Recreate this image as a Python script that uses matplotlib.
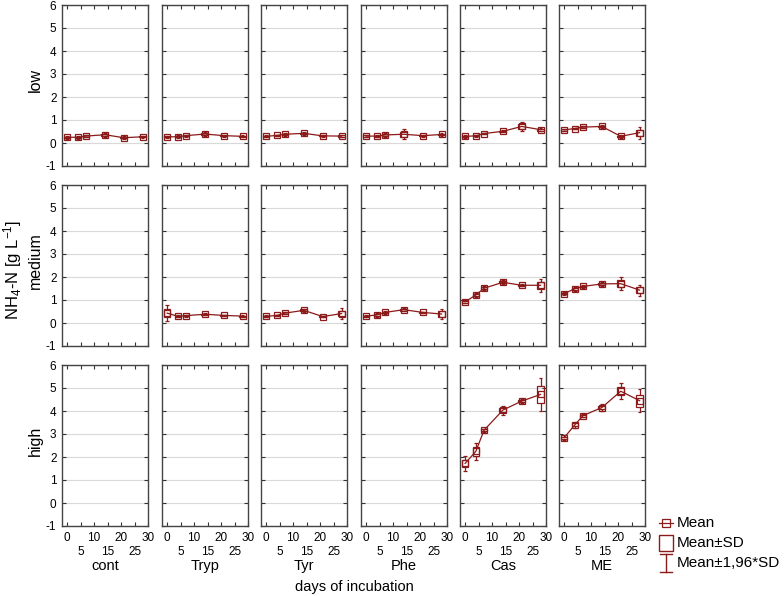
import matplotlib
matplotlib.use("Agg")
import matplotlib.pyplot as plt
from matplotlib.patches import Rectangle
from matplotlib.lines import Line2D

# sampling days
days = [0, 4, 7, 14, 21, 28]

groups = ["cont", "Tryp", "Tyr", "Phe", "Cas", "ME"]
levels = ["low", "medium", "high"]

# means (g/L) and standard deviations
cont_low = [0.25, 0.25, 0.30, 0.36, 0.23, 0.27]
cont_low_sd = [0.03, 0.03, 0.03, 0.04, 0.03, 0.02]
tryp_low = [0.27, 0.27, 0.32, 0.39, 0.32, 0.29]
tryp_low_sd = [0.02, 0.03, 0.02, 0.04, 0.02, 0.02]
tyr_low = [0.29, 0.33, 0.38, 0.42, 0.31, 0.30]
tyr_low_sd = [0.02, 0.02, 0.03, 0.03, 0.02, 0.03]
phe_low = [0.30, 0.30, 0.35, 0.38, 0.32, 0.37]
phe_low_sd = [0.03, 0.02, 0.04, 0.11, 0.02, 0.03]
cas_low = [0.29, 0.31, 0.41, 0.51, 0.72, 0.58]
cas_low_sd = [0.03, 0.02, 0.02, 0.02, 0.10, 0.04]
me_low = [0.57, 0.63, 0.69, 0.72, 0.29, 0.45]
me_low_sd = [0.03, 0.02, 0.03, 0.04, 0.03, 0.13]

tryp_med = [0.43, 0.29, 0.32, 0.38, 0.33, 0.30]
tryp_med_sd = [0.17, 0.02, 0.02, 0.02, 0.02, 0.02]
tyr_med = [0.29, 0.33, 0.43, 0.55, 0.28, 0.41]
tyr_med_sd = [0.02, 0.02, 0.03, 0.04, 0.02, 0.12]
phe_med = [0.30, 0.35, 0.46, 0.58, 0.46, 0.39]
phe_med_sd = [0.02, 0.04, 0.03, 0.04, 0.02, 0.12]
cas_med = [0.92, 1.22, 1.51, 1.77, 1.64, 1.64]
cas_med_sd = [0.03, 0.04, 0.04, 0.04, 0.02, 0.15]
me_med = [1.28, 1.49, 1.59, 1.70, 1.71, 1.43]
me_med_sd = [0.04, 0.04, 0.04, 0.04, 0.14, 0.12]

cas_high = [1.72, 2.25, 3.16, 4.04, 4.43, 4.72]
cas_high_sd = [0.17, 0.19, 0.04, 0.10, 0.04, 0.36]
me_high = [2.84, 3.40, 3.80, 4.15, 4.86, 4.45]
me_high_sd = [0.05, 0.07, 0.04, 0.08, 0.18, 0.26]

series = {
    ("cont", "low"): (cont_low, cont_low_sd),
    ("Tryp", "low"): (tryp_low, tryp_low_sd),
    ("Tyr", "low"): (tyr_low, tyr_low_sd),
    ("Phe", "low"): (phe_low, phe_low_sd),
    ("Cas", "low"): (cas_low, cas_low_sd),
    ("ME", "low"): (me_low, me_low_sd),
    ("Tryp", "medium"): (tryp_med, tryp_med_sd),
    ("Tyr", "medium"): (tyr_med, tyr_med_sd),
    ("Phe", "medium"): (phe_med, phe_med_sd),
    ("Cas", "medium"): (cas_med, cas_med_sd),
    ("ME", "medium"): (me_med, me_med_sd),
    ("Cas", "high"): (cas_high, cas_high_sd),
    ("ME", "high"): (me_high, me_high_sd),
}

red = "#8b1a1a"
W, H = 784, 596

plt.rcParams["font.family"] = ["Liberation Sans", "DejaVu Sans"]
plt.rcParams["mathtext.fontset"] = "custom"
plt.rcParams["mathtext.rm"] = "Liberation Sans"
plt.rcParams["mathtext.it"] = "Liberation Sans:italic"
fig = plt.figure(figsize=(W / 100, H / 100), dpi=100)

col_left = [62, 162, 261, 361, 460, 559]
col_w = 86
row_top = [5, 185, 365]
row_h = 161

xticklabels = ["0", "\n5", "10", "\n15", "20", "\n25", "30"]

for r, lev in enumerate(levels):
    for c, g in enumerate(groups):
        ax = fig.add_axes([col_left[c] / W, 1 - (row_top[r] + row_h) / H, col_w / W, row_h / H])
        ax.set_xlim(-1.9, 30)
        ax.set_ylim(-1, 6)
        ax.set_yticks(range(-1, 7))
        ax.set_xticks(range(0, 31, 5))
        ax.yaxis.grid(True, color="#d9d9d9", lw=0.8)
        ax.set_axisbelow(True)
        ax.tick_params(direction="in", top=True, right=True, length=3, width=0.8,
                       labelsize=8.5, color="#333333", pad=4)
        for s in ax.spines.values():
            s.set_color("#444444")
            s.set_linewidth(1.0)
        if c == 0:
            ax.set_yticklabels([str(v) for v in range(-1, 7)])
        else:
            ax.set_yticklabels([])
        if r == 2:
            ax.set_xticklabels(xticklabels, linespacing=1.25)
        else:
            ax.set_xticklabels([])

        key = (g, lev)
        if key not in series:
            continue
        mean, sd = series[key]
        ax.plot(days, mean, color=red, lw=0.9, marker="s", ms=5, mfc="none",
                mec=red, mew=0.9, zorder=4)
        bw = 2.5
        cw = 1.4
        for d, m, s in zip(days, mean, sd):
            ax.add_patch(Rectangle((d - bw / 2, m - s), bw, 2 * s, fill=False,
                                   ec=red, lw=0.9, zorder=3))
            ax.vlines(d, m + s, m + 1.96 * s, color=red, lw=0.9, zorder=3)
            ax.vlines(d, m - 1.96 * s, m - s, color=red, lw=0.9, zorder=3)
            ax.hlines([m - 1.96 * s, m + 1.96 * s], d - cw / 2, d + cw / 2,
                      color=red, lw=0.9, zorder=3)

# row and column labels
for r, lev in enumerate(levels):
    fig.text(35 / W, 1 - (row_top[r] + row_h / 2 - 5) / H, lev, rotation=90,
             ha="center", va="center", fontsize=11.5)
for c, g in enumerate(groups):
    fig.text((col_left[c] + col_w / 2) / W, 1 - 566 / H, g, ha="center",
             va="center", fontsize=10.5)
fig.text(354 / W, 1 - 587 / H, "days of incubation", ha="center", va="center",
         fontsize=10.5)
fig.text(13 / W, 1 - 270 / H, "NH$_4$-N [g L$^{-1}$]", rotation=90,
         ha="center", va="center", fontsize=12)

# legend
lax = fig.add_axes([0, 0, 1, 1])
lax.set_xlim(0, W)
lax.set_ylim(H, 0)
lax.axis("off")
lx = 666
lax.add_line(Line2D([lx - 7, lx + 7], [523, 523], color=red, lw=0.9))
lax.add_patch(Rectangle((lx - 4, 519), 8, 8, fill=False, ec=red, lw=0.9))
lax.add_patch(Rectangle((lx - 7, 535), 14, 16, fill=False, ec=red, lw=1.0))
lax.add_line(Line2D([lx, lx], [554, 572], color=red, lw=1.0))
lax.add_line(Line2D([lx - 6, lx + 6], [554, 554], color=red, lw=1.0))
lax.add_line(Line2D([lx - 6, lx + 6], [572, 572], color=red, lw=1.0))
lax.text(677, 523, "Mean", va="center", ha="left", fontsize=11)
lax.text(677, 543, "Mean±SD", va="center", ha="left", fontsize=11)
lax.text(677, 563, "Mean±1,96*SD", va="center", ha="left", fontsize=11)

fig.savefig("out.png", dpi=100)
